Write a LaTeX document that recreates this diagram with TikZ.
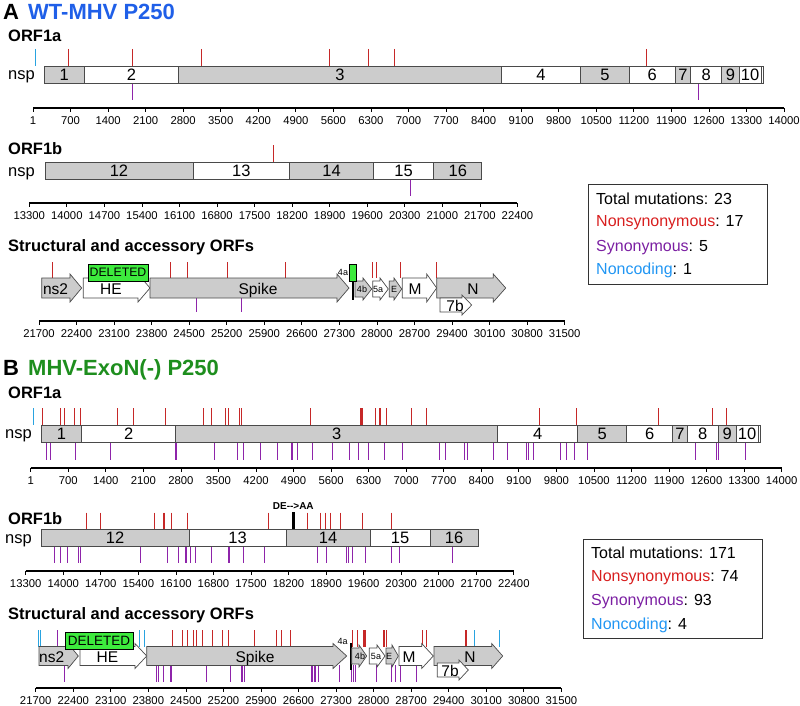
\documentclass[tikz,border=0pt]{standalone}
\usepackage{fontspec}
\setmainfont{Liberation Sans}

\definecolor{nonsynred}{HTML}{C62828}
\definecolor{synpurple}{HTML}{8E24AA}
\definecolor{ncblue}{HTML}{29A3E0}
\definecolor{wtblue}{HTML}{1F5FE8}
\definecolor{exogreen}{HTML}{1E8E1E}
\definecolor{delgreen}{HTML}{3DEB3D}
\definecolor{seggrey}{HTML}{CCCCCC}
\definecolor{edgegrey}{HTML}{4A4A4A}
\definecolor{legred}{HTML}{D81E1E}
\definecolor{legpurple}{HTML}{7B1FA2}
\definecolor{legblue}{HTML}{2196F3}

\tikzset{
  mutns/.style={nonsynred, line width=1pt},
  mutsyn/.style={synpurple, line width=1pt},
  mutnc/.style={ncblue, line width=1pt},
  seggray/.style={draw=edgegrey, fill=seggrey, line width=0.7pt},
  segwhite/.style={draw=edgegrey, fill=white, line width=0.7pt},
  nsplab/.style={font=\fontsize{16.5}{18}\selectfont, inner sep=0pt},
  orflab/.style={font=\fontsize{15.5}{17}\selectfont, inner sep=0pt, anchor=base},
  tinylab/.style={font=\fontsize{9}{10}\selectfont, inner sep=0pt, anchor=base},
  heading/.style={font=\bfseries\fontsize{16.5}{18}\selectfont, anchor=base west, inner sep=0pt},
  paneltitle/.style={font=\bfseries\fontsize{22}{25}\selectfont, anchor=base west, inner sep=0pt},
  axisline/.style={line width=1.8pt},
  axistick/.style={line width=0.8pt},
  axislab/.style={font=\fontsize{11.3}{13}\selectfont, inner sep=0pt},
  delbox/.style={draw=black, fill=delgreen, line width=0.7pt},
  legendbox/.style={draw=black!80, line width=1pt},
  legendtxt/.style={font=\fontsize{16}{18}\selectfont, anchor=base west, inner sep=0pt},
}

% ORF arrow: start, head start, tip, mid y, body half, head half, style
\newcommand{\orfarrow}[7]{%
  \draw[#7] (#1,#4-#5) -- (#2,#4-#5) -- (#2,#4-#6) -- (#3,#4)
    -- (#2,#4+#6) -- (#2,#4+#5) -- (#1,#4+#5) -- cycle;}

% mutation ticks: style, top, bottom, list of x
\newcommand{\muts}[4]{\foreach \x in {#4} \draw[#1] (\x,#2) -- (\x,#3);}

% genome axis: name, x0, y, first label, number of steps
\newcommand{\genaxis}[5]{%
  \draw[axisline] (#2,#3) -- ({#2+#5*37.55},#3);
  \foreach \i in {0,...,#5}{
    \edef\v{\the\numexpr #4+\i*700\relax}
    \ifnum\v=0 \def\v{1}\fi
    \draw[axistick] ({#2+\i*37.55},#3) -- ++(0,4);
    \node[axislab] (#1-\i) at ({#2+\i*37.55},#3+12.5) {\v};
  }}

\begin{document}
\begin{tikzpicture}[x=1pt,y=-1pt]
\useasboundingbox (0,0) rectangle (800,706);

%===================== A: WT-MHV P250 =====================
\node[paneltitle] (titleA) at (3,19.5) {A};
\node[paneltitle, wtblue] (nameA) at (28,19.5) {WT-MHV P250};

%--- ORF1a ---
\node[heading] (A1a) at (8,42) {ORF1a};
\node[nsplab, anchor=base] (A1a-nsp) at (21.5,80) {nsp};
\muts{mutnc}{49}{66}{35}
\muts{mutns}{49}{66}{68,132,201,329,368,394,646.7}
\muts{mutsyn}{83}{100}{132.7,698.7}
\foreach \a/\b/\n/\s in {44/84.3/1/seggray, 84.3/178.7/2/segwhite, 178.7/501/3/seggray,
  501/580.7/4/segwhite, 580.7/629.3/5/seggray, 629.3/675.3/6/segwhite, 675.3/690.7/7/seggray,
  690.7/721.7/8/segwhite, 721.7/739.3/9/seggray, 739.3/761/10/segwhite}{
  \draw[\s] (\a,66) rectangle (\b,83);
  \node[nsplab] (A1a-\n) at ({(\a+\b)/2},74.5) {\n};
}
\draw[segwhite] (761,66) rectangle (763,83);
\genaxis{axA1a}{33}{108}{0}{20}

%--- ORF1b ---
\node[heading] (A1b) at (8,154) {ORF1b};
\node[nsplab, anchor=base] (A1b-nsp) at (21.5,176) {nsp};
\muts{mutns}{145}{162}{273.7}
\muts{mutsyn}{179}{196}{410}
\foreach \a/\b/\n/\s in {44.9/193.1/12/seggray, 193.1/289.6/13/segwhite, 289.6/373.5/14/seggray,
  373.5/433.7/15/segwhite, 433.7/481.8/16/seggray}{
  \draw[\s] (\a,162) rectangle (\b,179);
  \node[nsplab] (A1b-\n) at ({(\a+\b)/2},170.5) {\n};
}
\genaxis{axA1b}{29.3}{203}{13300}{13}

%--- Structural and accessory ORFs ---
\node[heading] (Astr) at (8,251) {Structural and accessory ORFs};
\muts{mutns}{262}{278}{52.3,170.7,187.7,227.7,285.3,372.7,376,400,436.3}
\muts{mutsyn}{298}{312}{196,241.3}
\orfarrow{41.7}{70}{81.7}{288}{10}{14}{seggray}
\orfarrow{83.3}{138}{150}{288}{10}{14}{segwhite}
\orfarrow{150}{337}{349}{288}{10}{14}{seggray}
\draw[line width=1.2pt] (353,282) -- (353,300);
\orfarrow{355}{363}{371.7}{289}{8}{11}{seggray}
\orfarrow{372.7}{380}{388.3}{289}{8}{11}{segwhite}
\orfarrow{389.3}{394}{401.7}{289}{8}{11}{seggray}
\orfarrow{402.3}{426.7}{436.7}{288}{10}{14}{segwhite}
\orfarrow{436.7}{493.3}{505.7}{288}{10}{14}{seggray}
\orfarrow{440}{462}{471.7}{305}{7}{10}{segwhite}
\node[orflab] (A-ns2) at (55.5,294) {ns2};
\node[orflab] (A-HE) at (111,294) {HE};
\node[orflab] (A-S) at (258,294) {Spike};
\node[tinylab] (A-4b) at (362,292) {4b};
\node[tinylab] (A-5a) at (378,292) {5a};
\node[tinylab] (A-E) at (394,292) {E};
\node[orflab] (A-M) at (415,294) {M};
\node[orflab] (A-N) at (473,294) {N};
\node[orflab] (A-7b) at (455,311) {7b};
\draw[delbox] (88,264) rectangle (148,281);
\node[font=\fontsize{12.3}{14}\selectfont, inner sep=0pt] (A-del) at (118,272.5) {DELETED};
\draw[delbox] (349.3,264) rectangle (356.7,281);
\node[tinylab] (A-4a) at (343,275) {4a};
\genaxis{axAstr}{39}{321}{21700}{14}

%--- totals ---
\draw[legendbox] (588,184.3) rectangle (767,284);
\node[legendtxt] (A-tot) at (596,204.8) {Total mutations: 23};
\node[legendtxt] (A-ns) at (596,226.8) {\textcolor{legred}{Nonsynonymous}: 17};
\node[legendtxt] (A-syn) at (596,251.8) {\textcolor{legpurple}{Synonymous}: 5};
\node[legendtxt] (A-nc) at (596,274.8) {\textcolor{legblue}{Noncoding}: 1};

%===================== B: MHV-ExoN(-) P250 =====================
\node[paneltitle] (titleB) at (3,375.5) {B};
\node[paneltitle, exogreen] (nameB) at (28,375.5) {MHV-ExoN(-) P250};

%--- ORF1a ---
\node[heading] (B1a) at (8,398) {ORF1a};
\node[nsplab, anchor=base] (B1a-nsp) at (18.5,438) {nsp};
\muts{mutnc}{408}{425}{33.3}
\muts{mutns}{408}{425}{42.3,60.7,64.7,74,80,117.3,133.3,165.3,203.3,211,225.3,228.7,239.7,241.3,
  310,360,361.7,362.7,375,379,380,386.7,411.7,426,539.3,576.7,658.3,712.3,726}
\muts{mutsyn}{442.3}{460}{46.7,50,75.3,110.7,175,176.7,214.3,237.7,243.3,260,277,291,292,297.7,
  312.3,332,349.3,358.3,368.3,384.3,402.7,439,445.7,464.3,467.7,493.7,507.7,526.7,528.3,533,
  560.7,566.7,574,587,695,716.7,718.3,745}
\foreach \a/\b/\n/\s in {41/81.7/1/seggray, 81.7/175.7/2/segwhite, 175.7/497.7/3/seggray,
  497.7/577.7/4/segwhite, 577.7/626.7/5/seggray, 626.7/672.7/6/segwhite, 672.7/687.3/7/seggray,
  687.3/718.3/8/segwhite, 718.3/736/9/seggray, 736/758.3/10/segwhite}{
  \draw[\s] (\a,425.7) rectangle (\b,442.3);
  \node[nsplab] (B1a-\n) at ({(\a+\b)/2},434) {\n};
}
\draw[segwhite] (758.3,425.7) rectangle (760.7,442.3);
\genaxis{axB1a}{30.7}{467.7}{0}{20}

%--- ORF1b ---
\node[heading] (B1b) at (8,524) {ORF1b};
\node[nsplab, anchor=base] (B1b-nsp) at (18.5,543) {nsp};
\muts{mutns}{512.7}{529.3}{86.7,100.7,154.3,163.3,164.7,171,187.3,268.7,307,320.7,325.7,330,
  340.3,362,391.3}
\muts{mutsyn}{546.7}{563.3}{54.3,60.7,67.3,78.3,80,140,167.7,178.3,185,186,190,195,211,228.7,
  229.3,243.3,264,264.7,317.7,326,346.7,348.7,352,365,391.3,399,452.7}
\draw[line width=2.6pt] (293.3,512) -- (293.3,529.3);
\node[font=\bfseries\fontsize{10}{11}\selectfont, inner sep=0pt] (B-DEAA) at (293.3,506) {DE-{}-{}>AA};
\foreach \a/\b/\n/\s in {41/189.3/12/seggray, 189.3/286/13/segwhite, 286/370/14/seggray,
  370/430/15/segwhite, 430/478.3/16/seggray}{
  \draw[\s] (\a,529.3) rectangle (\b,546.7);
  \node[nsplab] (B1b-\n) at ({(\a+\b)/2},538) {\n};
}
\genaxis{axB1b}{25.7}{571}{13300}{13}

%--- Structural and accessory ORFs ---
\node[heading] (Bstr) at (8,619) {Structural and accessory ORFs};
\muts{mutnc}{630}{646.7}{38.3,40,139.3,144,474.3,499}
\muts{mutsyn}{630}{646.7}{57.3}
\muts{mutns}{630}{646.7}{172.7,182.3,187.3,193.3,196.7,202.3,212.7,222.3,228.3,254,276.7,281.7,
  290,352.7,357.3,363.3,364.3,365.3,383.3,384.3,386.7,422.7,426,465,466.7}
\muts{mutsyn}{665}{681.7}{64,156.7,158.3,163.3,170,171.7,206.7,230.7,241.7,242.7,244.3,311.7,
  312.7,314,315,318.3,339.3,351.7,353.3,355,376,391.7,395.7,400,416}
\orfarrow{39}{68}{78.3}{656}{9.5}{12.5}{seggray}
\orfarrow{80}{135}{146.7}{656}{9.5}{12.5}{segwhite}
\orfarrow{146.7}{333}{346.7}{656}{9.5}{12.5}{seggray}
\draw[line width=1.6pt] (350.7,643) -- (350.7,670);
\orfarrow{351.7}{359}{366.7}{656}{8}{11}{seggray}
\orfarrow{369.3}{377}{385}{656}{8}{11}{segwhite}
\orfarrow{386}{392}{398.3}{656}{8}{11}{seggray}
\orfarrow{399}{421.7}{433.3}{656}{9.5}{12.5}{segwhite}
\orfarrow{434}{491.7}{502.7}{656}{9.5}{12.5}{seggray}
\orfarrow{437.3}{459}{468.3}{670}{7}{10}{segwhite}
\node[orflab] (B-ns2) at (51.7,662) {ns2};
\node[orflab] (B-HE) at (107.5,662) {HE};
\node[orflab] (B-S) at (255,662) {Spike};
\node[tinylab] (B-4b) at (360,659.5) {4b};
\node[tinylab] (B-5a) at (376,659.5) {5a};
\node[tinylab] (B-E) at (389,659.5) {E};
\node[orflab] (B-M) at (409,662) {M};
\node[orflab] (B-N) at (470,662) {N};
\node[orflab] (B-7b) at (450,676) {7b};
\draw[delbox] (65,632) rectangle (133.3,649.3);
\node[font=\fontsize{13.5}{15}\selectfont, inner sep=0pt] (B-del) at (99,640.7) {DELETED};
\node[tinylab] (B-4a) at (342.7,644.5) {4a};
\genaxis{axBstr}{35.7}{688.3}{21700}{14}

%--- totals ---
\draw[legendbox] (583,539) rectangle (762,638);
\node[legendtxt] (B-tot) at (591,558.8) {Total mutations: 171};
\node[legendtxt] (B-ns) at (591,581.8) {\textcolor{legred}{Nonsynonymous}: 74};
\node[legendtxt] (B-syn) at (591,605.8) {\textcolor{legpurple}{Synonymous}: 93};
\node[legendtxt] (B-nc) at (591,629.8) {\textcolor{legblue}{Noncoding}: 4};

\end{tikzpicture}
\end{document}
